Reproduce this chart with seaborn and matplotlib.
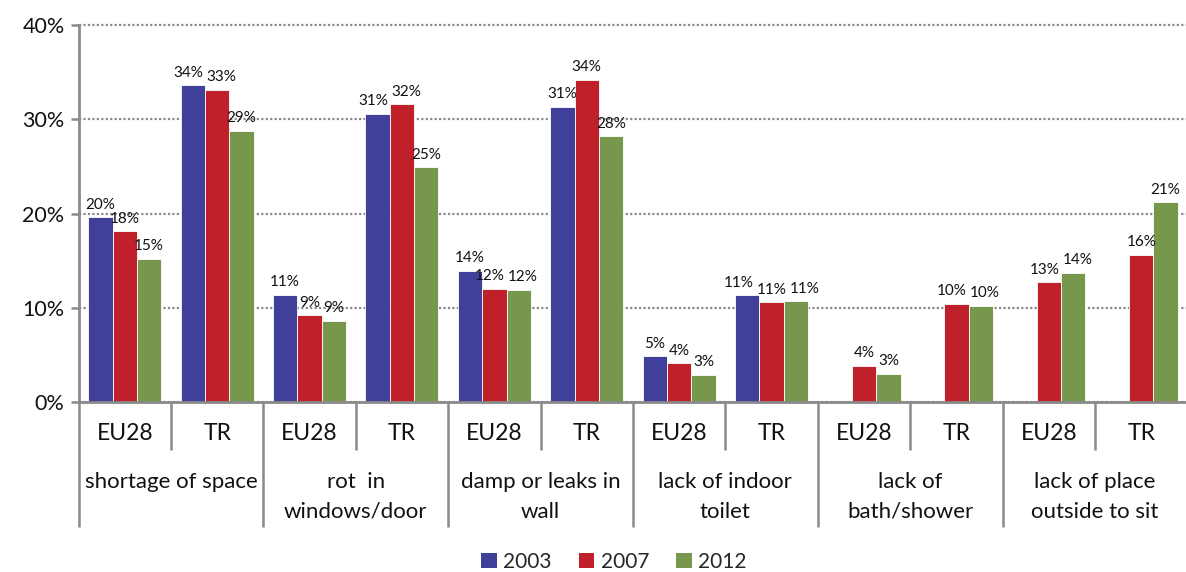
import numpy as np
import pandas as pd
import matplotlib
matplotlib.use("Agg")
import matplotlib.pyplot as plt
import matplotlib.transforms as mtransforms
from matplotlib.patches import Patch
import seaborn as sns

# ---------------- data ----------------
problems = ["shortage of space", "rot  in\nwindows/door", "damp or leaks in\nwall",
            "lack of indoor\ntoilet", "lack of\nbath/shower", "lack of place\noutside to sit"]
regions = ["EU28", "TR"]
years = ["2003", "2007", "2012"]
nan = np.nan
v2003 = [19.6, 33.6, 11.4, 30.6, 13.9, 31.3, 4.85, 11.3, nan, nan, nan, nan]
v2007 = [18.1, 33.1, 9.2, 31.6, 12.0, 34.2, 4.1, 10.6, 3.85, 10.4, 12.7, 15.6]
v2012 = [15.2, 28.8, 8.6, 24.9, 11.9, 28.2, 2.9, 10.7, 3.0, 10.2, 13.7, 21.2]
yticks = [0, 10, 20, 30, 40]
colors = ["#40409A", "#C0202A", "#77974C"]

# ---------------- frame ----------------
slots = [f"{p}|{r}" for p in range(len(problems)) for r in regions]
rows = []
for yr, vals in zip(years, [v2003, v2007, v2012]):
    for s, v in zip(slots, vals):
        if not np.isnan(v):
            rows.append({"slot": s, "year": yr, "value": v})
df = pd.DataFrame(rows)

sns.set_theme(style="white")
plt.rcParams["font.family"] = ["Lato", "DejaVu Sans"]
gray = "#8A8A8A"
txt = "#111111"

fig = plt.figure(figsize=(11.86, 5.72), dpi=100)
W, H = 1186, 572
ax = fig.add_axes([78.5 / W, 1 - 402 / H, (1187.5 - 78.5) / W, (402 - 25) / H])

sns.barplot(data=df, x="slot", y="value", hue="year", order=slots, hue_order=years,
            palette=colors, saturation=1, width=0.79, errorbar=None,
            edgecolor="white", linewidth=0.6, legend=False, ax=ax)

labels = []
for c in ax.containers:
    anns = ax.bar_label(c, fmt=lambda v: f"{v:.0f}%", padding=4, fontsize=11, color=txt)
    for bar, a in zip(c, anns):
        labels.append((bar.get_x() + bar.get_width() / 2, a))

ax.set_xlim(-0.5, len(slots) - 0.5)
ax.set_ylim(0, 40)
ax.set_yticks(yticks)
ax.set_yticklabels([f"{t}%" for t in yticks], fontsize=15.5, color=txt)
ax.yaxis.grid(True, color=gray, linestyle=(0, (1, 1)), linewidth=1.6)
for gl in ax.get_ygridlines():
    gl.set_clip_on(False)
ax.set_axisbelow(True)
ax.tick_params(axis="y", length=6, width=1.8, color=gray, direction="out", left=True, pad=4)

ax.set_xlabel("")
ax.set_ylabel("")
ax.set_xticks(np.arange(-0.5, len(slots), 2))
ax.set_xticklabels([])
ax.set_xticks(np.arange(-0.5, len(slots), 1), minor=True)
ax.tick_params(axis="x", which="major", length=90, width=1.8, color=gray, direction="out", bottom=True)
ax.tick_params(axis="x", which="minor", length=34.5, width=1.8, color=gray, direction="out", bottom=True)

for side in ["top", "right"]:
    ax.spines[side].set_visible(False)
for side in ["left", "bottom"]:
    ax.spines[side].set_color(gray)
    ax.spines[side].set_linewidth(2)

trans = mtransforms.blended_transform_factory(ax.transData, ax.transAxes)
axh = 402 - 25
for i, s in enumerate(slots):
    ax.text(i, -(433 - 402) / axh, regions[i % 2], transform=trans, ha="center", va="center",
            fontsize=16.5, color=txt)
for j, p in enumerate(problems):
    ax.text(2 * j + 0.5, -(472 - 402) / axh, p, transform=trans, ha="center", va="top",
            multialignment="center", fontsize=16, color=txt, linespacing=1.62)

handles = [Patch(facecolor=c, edgecolor="none") for c in colors]
fig.legend(handles, years, loc="center", bbox_to_anchor=(614 / W, 1 - 562 / H), ncol=3,
           frameon=False, handlelength=0.75, handleheight=0.75, handletextpad=0.3,
           columnspacing=1.3, fontsize=15)

# nudge adjacent value labels apart horizontally when they collide
fig.canvas.draw()
renderer = fig.canvas.get_renderer()
labels.sort(key=lambda t: t[0])
groups = {}
for xc, a in labels:
    groups.setdefault(int(round(xc)), []).append(a)
gap = 3
for g, anns in groups.items():
    for _ in range(6):
        moved = False
        for a, b in zip(anns[:-1], anns[1:]):
            ba = a.get_window_extent(renderer)
            bb = b.get_window_extent(renderer)
            if ba.x1 + gap > bb.x0 and ba.y0 < bb.y1 and bb.y0 < ba.y1:
                ov = (ba.x1 + gap - bb.x0) * 72 / fig.dpi
                ax_, ay_ = a.xyann
                bx_, by_ = b.xyann
                a.xyann = (ax_ - ov / 2, ay_)
                b.xyann = (bx_ + ov / 2, by_)
                moved = True
        if not moved:
            break

fig.savefig("out.png", dpi=100)
